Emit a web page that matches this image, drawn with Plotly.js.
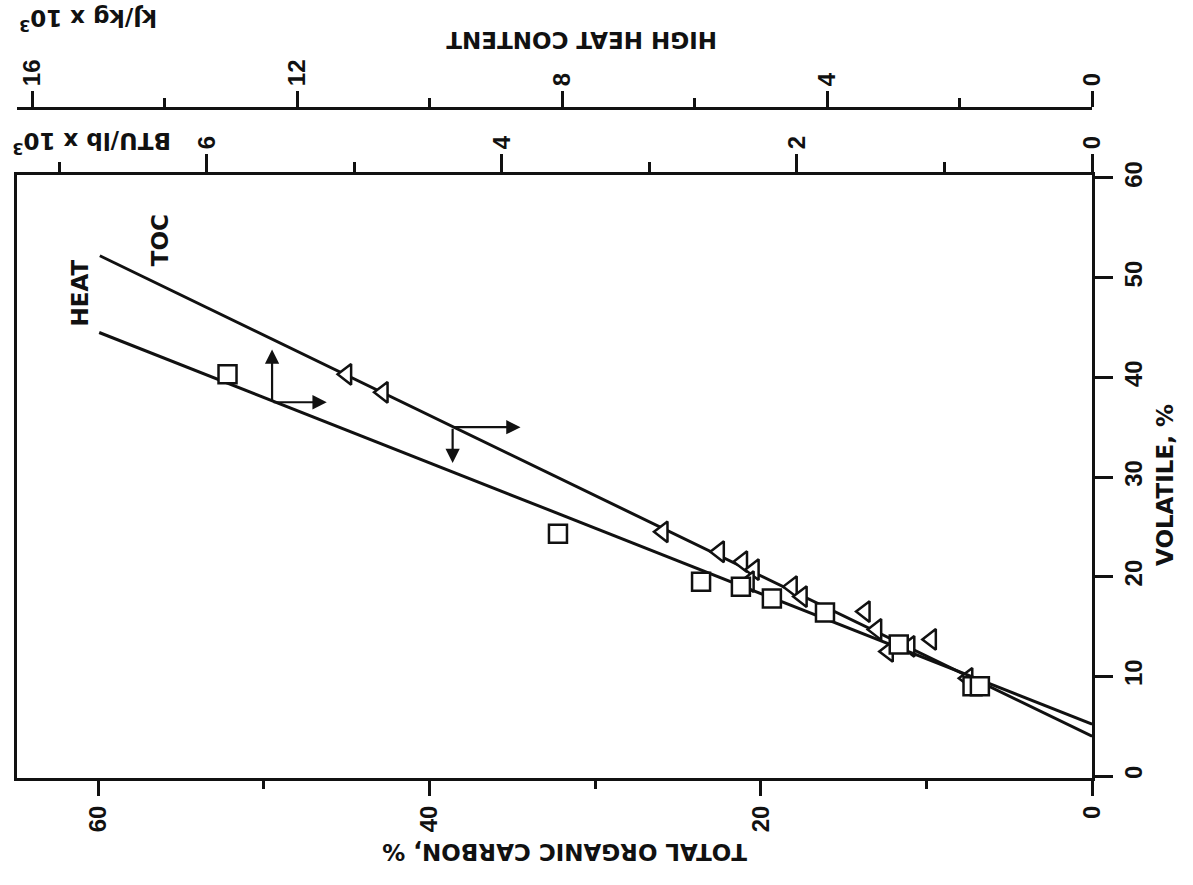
<!DOCTYPE html>
<html>
<head>
<meta charset="utf-8">
<script src="https://cdn.plot.ly/plotly-3.0.1.min.js"></script>
<style>html,body{margin:0;padding:0;background:#fff;}#chart{width:1193px;height:885px;}</style>
</head>
<body>
<div id="chart"></div>
<script>
// Triangles: total organic carbon (%) vs volatile (%)
const tocValues = [45.0, 42.8, 25.9, 22.5, 21.1, 20.4, 20.7, 18.1, 17.5, 13.7, 13.0, 12.3, 11.0, 9.7, 7.5];
const tocVolatile = [40.3, 38.5, 24.5, 22.5, 21.5, 20.7, 19.5, 19.0, 18.0, 16.5, 14.7, 12.5, 13.0, 13.7, 9.8];
// Squares: high heat content (BTU/lb x 10^3) vs volatile (%)
const heatBTU = [5.86, 3.62, 2.65, 2.38, 2.17, 1.81, 1.31, 0.81, 0.76];
const heatVolatile = [40.3, 24.3, 19.5, 19.0, 17.8, 16.4, 13.2, 9.0, 9.0];
// Fitted lines (end points)
const tocLineX = [59.9, 0];
const tocLineY = [52.2, 4.0];
const heatLineX = [6.73, 0];
const heatLineY = [44.5, 5.2];
// Axis ticks
const tocTicks = [0, 20, 40, 60];
const volTicks = [0, 10, 20, 30, 40, 50, 60];
const btuTicks = [0, 2, 4, 6];
const kjTicks = [0, 4, 8, 12, 16];
// Arrow annotations (TOC %, volatile %)
const heatArrowOrigin = [49.5, 37.5];
const heatArrowUpTip = [49.5, 42.8];
const heatArrowRightTip = [46.2, 37.5];
const tocArrowOrigin = [38.6, 35.0];
const tocArrowDownTip = [38.6, 31.4];
const tocArrowRightTip = [34.5, 35.0];

const F = {family: 'DejaVu Sans, Liberation Sans, Arial, sans-serif', color: '#111', size: 23, weight: 'bold'};
const FT = {family: 'Liberation Sans, Arial, sans-serif', color: '#111', size: 24, weight: 'bold'};
const black = '#111';

const traces = [
  {x: heatLineX, y: heatLineY, xaxis: 'x2', yaxis: 'y', mode: 'lines', line: {color: black, width: 3}, hoverinfo: 'skip'},
  {x: tocLineX, y: tocLineY, xaxis: 'x', yaxis: 'y', mode: 'lines', line: {color: black, width: 3}, hoverinfo: 'skip'},
  {x: tocValues, y: tocVolatile, xaxis: 'x', yaxis: 'y', mode: 'markers',
   marker: {symbol: 'triangle-left', size: 18, color: '#fff', line: {color: black, width: 2.5}}},
  {x: heatBTU, y: heatVolatile, xaxis: 'x2', yaxis: 'y', mode: 'markers',
   marker: {symbol: 'square', size: 18, color: '#fff', line: {color: black, width: 2.5}}},
  // empty trace so the kJ/kg axis gets drawn
  {x: [null], y: [null], xaxis: 'x3', yaxis: 'y', mode: 'markers', hoverinfo: 'skip'}
];

const axCommon = {showgrid: false, zeroline: false, showline: true, linecolor: black, linewidth: 3,
  ticks: 'outside', tickcolor: black, tickwidth: 3, tickangle: -90, tickfont: FT, fixedrange: true};

function arrow(tip, origin) {
  return {x: tip[0], y: tip[1], ax: origin[0], ay: origin[1], xref: 'x', yref: 'y', axref: 'x', ayref: 'y',
    text: '', showarrow: true, arrowhead: 2, arrowsize: 1.3, arrowwidth: 2.2, arrowcolor: black};
}

const layout = {
  width: 1193, height: 885,
  margin: {l: 17, r: 101, t: 108, b: 107},
  paper_bgcolor: '#fff', plot_bgcolor: '#fff',
  showlegend: false,
  xaxis: Object.assign({}, axCommon, {range: [64.9, 0], tickvals: tocTicks, ticklen: 15,
    minor: {dtick: 10, tick0: 0, ticks: 'outside', ticklen: 8, tickwidth: 3, tickcolor: black}, anchor: 'y', side: 'bottom'}),
  xaxis2: Object.assign({}, axCommon, {range: [7.287, 0], tickvals: btuTicks, ticklen: 18,
    minor: {dtick: 1, tick0: 0, ticks: 'outside', ticklen: 10, tickwidth: 3, tickcolor: black},
    overlaying: 'x', side: 'top', anchor: 'y'}),
  xaxis3: Object.assign({}, axCommon, {range: [16.23, 0], tickvals: kjTicks, ticklen: 16,
    minor: {dtick: 2, tick0: 0, ticks: 'outside', ticklen: 9, tickwidth: 3, tickcolor: black},
    overlaying: 'x', side: 'top', anchor: 'free', position: 1}),
  yaxis: Object.assign({}, axCommon, {range: [-0.2, 60.3], tickvals: volTicks, ticklen: 18, side: 'right',
    mirror: true, domain: [0, 0.9], anchor: 'x'}),
  annotations: [
    arrow(heatArrowUpTip, heatArrowOrigin), arrow(heatArrowRightTip, heatArrowOrigin),
    arrow(tocArrowDownTip, tocArrowOrigin), arrow(tocArrowRightTip, tocArrowOrigin),
    {x: 61.1, y: 48.5, xref: 'x', yref: 'y', text: 'HEAT', showarrow: false, textangle: -90, font: F},
    {x: 56.3, y: 53.8, xref: 'x', yref: 'y', text: 'TOC', showarrow: false, textangle: -90, font: F},
    {x: 565, y: 852, text: 'TOTAL ORGANIC CARBON, %', showarrow: false, textangle: 180, font: F},
    {x: 582, y: 40, text: 'HIGH HEAT CONTENT', showarrow: false, textangle: 180, font: F},
    {x: 88, y: 20, text: 'kJ/kg x 10<sup>3</sup>', showarrow: false, textangle: 180, font: F},
    {x: 92, y: 143, text: 'BTU/lb x 10<sup>3</sup>', showarrow: false, textangle: 180, font: F},
    {x: 1165, y: 485, text: 'VOLATILE, %', showarrow: false, textangle: -90, font: F}
  ]
};
// convert pixel-positioned title annotations to paper coords
const pl = 17, pw = 1075, pt = 108, ph = 670;
layout.annotations.forEach((a, i) => {
  if (i >= 6) {
    a.xref = 'paper'; a.yref = 'paper';
    a.x = (a.x - pl) / pw; a.y = 1 - (a.y - pt) / ph;
    a.xanchor = 'center'; a.yanchor = 'middle';
  }
});
Plotly.newPlot('chart', traces, layout, {displayModeBar: false, staticPlot: true});
</script>
</body>
</html>
